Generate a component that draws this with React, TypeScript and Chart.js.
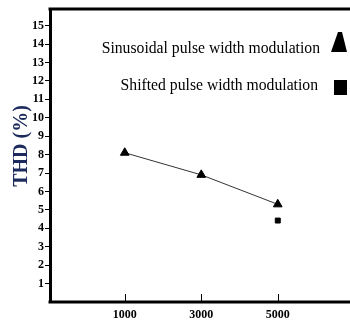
import React, { useEffect, useRef } from "react";
import { Chart, registerables } from "chart.js";

Chart.register(...registerables);

const xTicks = [1000, 3000, 5000];
const yTicks = [1, 2, 3, 4, 5, 6, 7, 8, 9, 10, 11, 12, 13, 14, 15];
const spwmX = [1000, 3000, 5000];
const spwmY = [8.1, 6.9, 5.3];
const shiftedX = [5000];
const shiftedY = [4.42];
const legendLabels = ["Sinusoidal pulse width modulation", "Shifted pulse width modulation"];
const yTitle = "THD (%)";

const SERIF = '"Liberation Serif", "DejaVu Serif", serif';

const framePlugin = {
  id: "frame",
  afterDraw(chart: any) {
    const { ctx, chartArea } = chart;
    const xs = chart.scales.x;
    ctx.save();
    ctx.strokeStyle = "#000";
    ctx.lineWidth = 3;
    ctx.beginPath();
    ctx.moveTo(chartArea.left - 1.5, chartArea.top);
    ctx.lineTo(chart.width + 5, chartArea.top);
    ctx.stroke();
    ctx.beginPath();
    ctx.moveTo(chartArea.left - 1.5, chartArea.bottom);
    ctx.lineTo(chart.width + 5, chartArea.bottom);
    ctx.stroke();
    // inward x ticks
    ctx.lineWidth = 1;
    xTicks.forEach((v) => {
      const px = Math.round(xs.getPixelForValue(v)) + 0.5;
      ctx.beginPath();
      ctx.moveTo(px, chartArea.bottom);
      ctx.lineTo(px, chartArea.bottom - 8);
      ctx.stroke();
    });
    // y title
    ctx.save();
    ctx.translate(22, 146);
    ctx.rotate(-Math.PI / 2);
    ctx.fillStyle = "#1c2a5c";
    ctx.font = `bold 20px ${SERIF}`;
    ctx.textAlign = "center";
    ctx.textBaseline = "middle";
    ctx.fillText(yTitle, 0, 0);
    ctx.restore();
    // legend
    ctx.fillStyle = "#000";
    ctx.font = `15.7px ${SERIF}`;
    ctx.textAlign = "right";
    ctx.textBaseline = "alphabetic";
    ctx.fillText(legendLabels[0], 320, 53);
    ctx.fillText(legendLabels[1], 318, 90);
    // triangle marker
    ctx.beginPath();
    ctx.moveTo(338, 32);
    ctx.lineTo(342, 32);
    ctx.lineTo(347, 52);
    ctx.lineTo(331, 52);
    ctx.closePath();
    ctx.fill();
    // square marker
    ctx.fillRect(334, 80, 13, 15);
    ctx.restore();
  },
};

export default function App() {
  const ref = useRef<HTMLCanvasElement>(null);
  useEffect(() => {
    if (!ref.current) return;
    const chart = new Chart(ref.current, {
      type: "scatter",
      data: {
        datasets: [
          {
            label: legendLabels[0],
            data: spwmX.map((x, i) => ({ x, y: spwmY[i] })),
            showLine: true,
            borderColor: "#333",
            borderWidth: 1,
            backgroundColor: "#000",
            pointBackgroundColor: "#000",
            pointBorderColor: "#000",
            pointStyle: "triangle",
            pointRadius: 5,
            pointBorderWidth: 1,
          },
          {
            label: legendLabels[1],
            data: shiftedX.map((x, i) => ({ x, y: shiftedY[i] })),
            showLine: false,
            backgroundColor: "#000",
            pointBackgroundColor: "#000",
            pointBorderColor: "#000",
            pointStyle: "rect",
            pointRadius: 3.5,
            pointBorderWidth: 1,
          },
        ],
      },
      options: {
        animation: false,
        responsive: false,
        maintainAspectRatio: false,
        layout: { padding: { top: 9, right: 0, left: 0, bottom: 0 } },
        plugins: { legend: { display: false }, tooltip: { enabled: false } },
        scales: {
          x: {
            type: "linear",
            min: -954,
            max: 6731,
            afterBuildTicks: (s: any) => {
              s.ticks = xTicks.map((v) => ({ value: v }));
            },
            afterFit: (s: any) => {
              s.height = 20;
            },
            grid: { display: false, drawTicks: false },
            border: { display: false },
            ticks: {
              color: "#000",
              padding: 6,
              font: { family: SERIF, size: 12, weight: "bold" },
              maxRotation: 0,
              callback: (v: any) => String(v),
            },
          },
          y: {
            type: "linear",
            min: 0,
            max: 15.9,
            afterBuildTicks: (s: any) => {
              s.ticks = yTicks.map((v) => ({ value: v }));
            },
            afterFit: (s: any) => {
              s.width = 50;
            },
            grid: { drawOnChartArea: false, drawTicks: true, tickLength: 5, color: "#000" },
            border: { display: true, color: "#000", width: 3 },
            ticks: {
              color: "#000",
              padding: 1,
              font: { family: SERIF, size: 12, weight: "bold" },
            },
            title: { display: false },
          },
        },
      },
      plugins: [framePlugin],
    });
    return () => chart.destroy();
  }, []);
  return (
    <div style={{ position: "fixed", left: 0, top: 0, width: 350, height: 322, background: "#fff", overflow: "hidden" }}>
      <canvas ref={ref} width={350} height={322} style={{ display: "block" }} />
    </div>
  );
}
